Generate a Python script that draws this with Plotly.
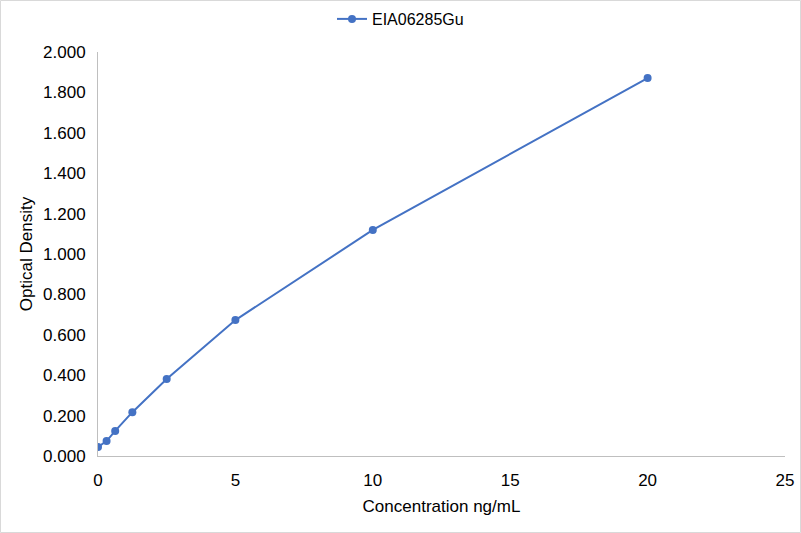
import plotly.graph_objects as go

# standard curve values
concentration = [0, 0.3125, 0.625, 1.25, 2.5, 5, 10, 20]
optical_density = [0.045, 0.074, 0.124, 0.217, 0.381, 0.673, 1.119, 1.871]
series_name = "EIA06285Gu"

W, H = 801, 533
L, R, T, B = 98, 16, 52, 77
pw, ph = W - L - R, H - T - B

fig = go.Figure()
fig.add_trace(go.Scatter(
    x=concentration, y=optical_density, name=series_name,
    mode="lines+markers",
    line=dict(color="#4472C4", width=2),
    marker=dict(color="#4472C4", size=8),
))

axis_font = dict(family="Liberation Sans, Arial", size=17, color="#000000")

fig.update_layout(
    width=W, height=H,
    margin=dict(l=L, r=R, t=T, b=B, autoexpand=False),
    paper_bgcolor="white", plot_bgcolor="white",
    font=axis_font,
    showlegend=True,
    legend=dict(orientation="h", x=0.5, xanchor="center", xref="container",
                y=1 - 19 / H, yanchor="middle", yref="container",
                bgcolor="rgba(0,0,0,0)",
                font=dict(family="Liberation Sans, Arial", size=16, color="#000000")),
    xaxis=dict(range=[0, 25], dtick=5, showgrid=False, zeroline=False,
               showline=True, linecolor="#BFBFBF", linewidth=1,
               ticks="", tickfont=axis_font, ticklabelstandoff=9,
               title=dict(text="Concentration ng/mL", font=axis_font, standoff=10)),
    yaxis=dict(range=[0, 2], dtick=0.2, tickformat=".3f", showgrid=False,
               zeroline=False, showline=True, linecolor="#BFBFBF", linewidth=1,
               ticks="", tickfont=axis_font, ticklabelstandoff=8,
               title=dict(text="Optical Density", font=axis_font, standoff=6)),
)

# thin grey frame around the whole chart
fig.add_shape(type="rect", xref="paper", yref="paper",
              x0=(0.5 - L) / pw, x1=(W - 0.5 - L) / pw,
              y0=-(H - 0.5 - T - ph) / ph, y1=(T - 0.5) / ph + 1,
              line=dict(color="#D9D9D9", width=1), layer="below")

fig.write_html("out.html", config={"displayModeBar": False},
               post_script="document.body.style.margin='0';")
